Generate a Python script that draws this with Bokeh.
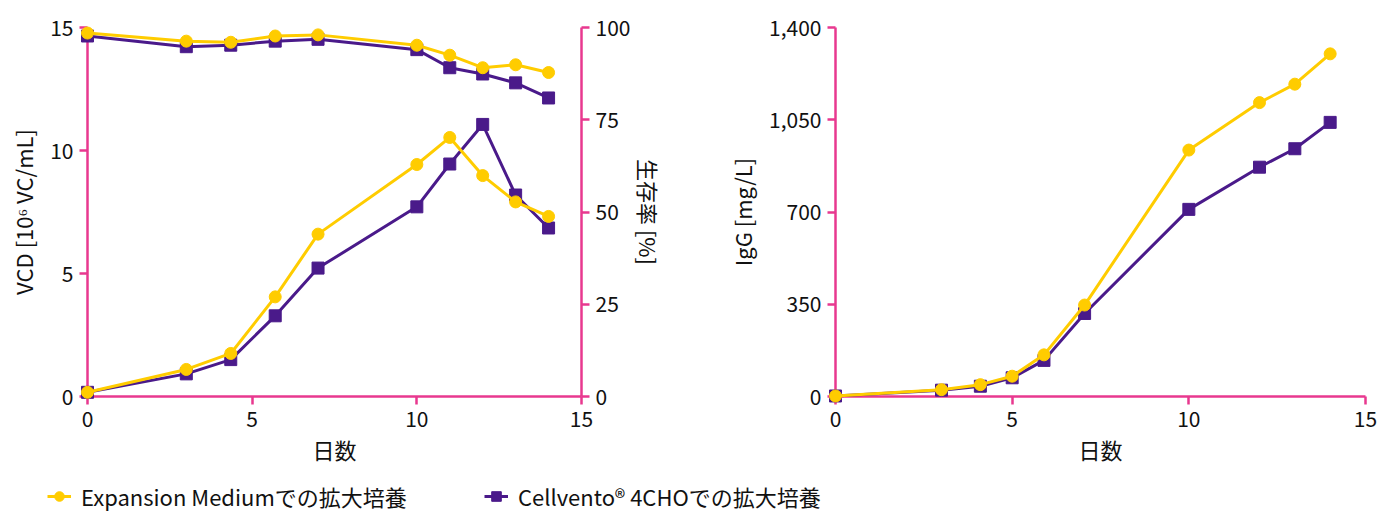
from bokeh.plotting import figure
from bokeh.models import Range1d, LinearAxis, FixedTicker, NumeralTickFormatter, Legend, LegendItem
from bokeh.layouts import column, row
from bokeh.embed import file_html
from bokeh.resources import INLINE

# --- data -------------------------------------------------------------
days_vcd = [0, 3, 4.35, 5.7, 7, 10, 11, 12, 13, 14]
vcd_expansion = [0.17, 1.1, 1.75, 4.05, 6.6, 9.43, 10.53, 8.98, 7.91, 7.32]
vcd_cellvento = [0.17, 0.92, 1.5, 3.28, 5.22, 7.71, 9.45, 11.06, 8.19, 6.85]
viab_expansion = [98.5, 96.3, 96.0, 97.7, 98.0, 95.2, 92.5, 89.1, 89.9, 87.8]
viab_cellvento = [97.7, 94.8, 95.2, 96.3, 96.8, 94.0, 89.1, 87.4, 85.0, 80.9]

days_igg = [0, 3, 4.1, 5, 5.9, 7.05, 10, 12, 13, 14]
igg_expansion = [2, 26, 45, 77, 158, 347, 935, 1115, 1185, 1300]
igg_cellvento = [2, 24, 39, 71, 137, 315, 710, 870, 940, 1040]

x_ticks = [0, 5, 10, 15]
vcd_ticks = [0, 5, 10, 15]
viab_ticks = [0, 25, 50, 75, 100]
igg_ticks = [0, 350, 700, 1050, 1400]

label_expansion = "Expansion Mediumでの拡大培養"
label_cellvento = "Cellvento® 4CHOでの拡大培養"

# --- style ------------------------------------------------------------
PINK = "#E8388F"
YELLOW = "#FFCC00"
PURPLE = "#4A1A8A"
FONT = "Noto Sans CJK JP"
TICK_SIZE = "21px"
LABEL_SIZE = "22px"


def style_axis(ax, ticks, label_standoff=8):
    ax.ticker = FixedTicker(ticks=ticks)
    ax.axis_line_color = PINK
    ax.axis_line_width = 2.5
    ax.major_tick_line_color = PINK
    ax.major_tick_line_width = 2.5
    ax.major_tick_in = 0
    ax.major_tick_out = 8
    ax.minor_tick_line_color = None
    ax.major_label_text_font = FONT
    ax.major_label_text_font_size = TICK_SIZE
    ax.major_label_text_color = "#111111"
    ax.major_label_standoff = 6
    ax.axis_label_text_font = FONT
    ax.axis_label_text_font_size = LABEL_SIZE
    ax.axis_label_text_font_style = "normal"
    ax.axis_label_text_color = "#111111"
    ax.axis_label_standoff = label_standoff


def base_figure(width, border_left, border_right, y_end):
    p = figure(width=width, height=470, x_range=Range1d(0, 15), y_range=Range1d(0, y_end),
               output_backend="svg", toolbar_location=None,
               min_border_left=border_left, min_border_right=border_right,
               min_border_top=27, min_border_bottom=74)
    p.grid.visible = False
    p.outline_line_color = None
    p.background_fill_color = "white"
    p.border_fill_color = "white"
    return p


def add_series(p, x, y, color, marker, y_range_name="default"):
    p.line(x, y, line_color=color, line_width=3, level="overlay", y_range_name=y_range_name)
    p.scatter(x, y, marker=marker, size=12, fill_color=color, line_color=color,
              level="overlay", y_range_name=y_range_name)


# --- left: VCD + viability ------------------------------------------------
p1 = base_figure(700, 87, 119, 15)
p1.extra_y_ranges = {"viab": Range1d(0, 100)}
style_axis(p1.xaxis[0], x_ticks, 3)
p1.xaxis[0].axis_label = "日数"
style_axis(p1.yaxis[0], vcd_ticks, 8)
p1.yaxis[0].axis_label = "VCD [10⁶ VC/mL]"
viab_axis = LinearAxis(y_range_name="viab", axis_label="生存率 [%]")
style_axis(viab_axis, viab_ticks, 0)
p1.add_layout(viab_axis, "right")

add_series(p1, days_vcd, viab_cellvento, PURPLE, "square", "viab")
add_series(p1, days_vcd, viab_expansion, YELLOW, "circle", "viab")
add_series(p1, days_vcd, vcd_cellvento, PURPLE, "square")
add_series(p1, days_vcd, vcd_expansion, YELLOW, "circle")

# --- right: IgG titer -----------------------------------------------------
p2 = base_figure(678, 135, 13, 1400)
style_axis(p2.xaxis[0], x_ticks, 3)
p2.xaxis[0].axis_label = "日数"
style_axis(p2.yaxis[0], igg_ticks, 8)
p2.yaxis[0].axis_label = "IgG [mg/L]"
p2.yaxis[0].formatter = NumeralTickFormatter(format="0,0")

add_series(p2, days_igg, igg_cellvento, PURPLE, "square")
add_series(p2, days_igg, igg_expansion, YELLOW, "circle")

# --- shared legend strip --------------------------------------------------
p3 = figure(width=1378, height=41, x_range=Range1d(100, 101), y_range=Range1d(100, 101),
            output_backend="svg", toolbar_location=None, min_border=0,
            x_axis_type=None, y_axis_type=None)
p3.grid.visible = False
p3.outline_line_color = None

le_line = p3.line(days_igg, igg_expansion, line_color=YELLOW, line_width=3)
le_mark = p3.scatter(days_igg, igg_expansion, marker="circle", fill_color=YELLOW, line_color=YELLOW)
lc_line = p3.line(days_igg, igg_cellvento, line_color=PURPLE, line_width=3)
lc_mark = p3.scatter(days_igg, igg_cellvento, marker="square", fill_color=PURPLE, line_color=PURPLE)


def make_legend(label, renderers, x):
    leg = Legend(items=[LegendItem(label=label, renderers=renderers)], location=(x, -1),
                 padding=0, margin=0, spacing=0, glyph_width=24, glyph_height=26,
                 label_standoff=10, label_text_font=FONT, label_text_font_size="22px",
                 label_text_color="#111111", border_line_color=None,
                 background_fill_alpha=0)
    return leg


p3.add_layout(make_legend(label_expansion, [le_line, le_mark], 47))
p3.add_layout(make_legend(label_cellvento, [lc_line, lc_mark], 484))

layout = column(row(p1, p2), p3)

open("out.html", "w").write(file_html(layout, INLINE))
